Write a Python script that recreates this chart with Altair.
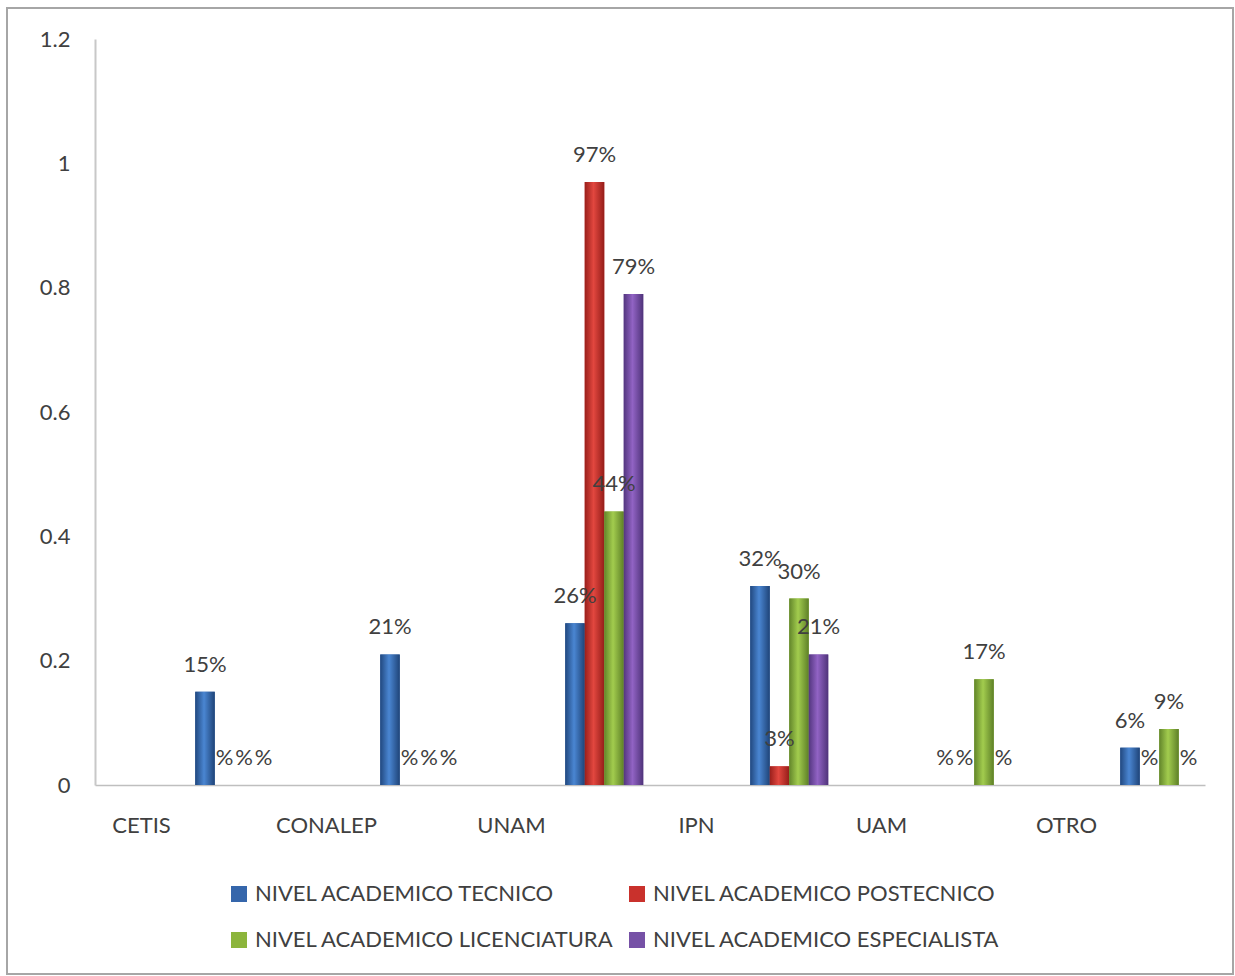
import altair as alt
import pandas as pd

categories = ["CETIS", "CONALEP", "UNAM", "IPN", "UAM", "OTRO"]
series = [
    "NIVEL ACADEMICO TECNICO",
    "NIVEL ACADEMICO POSTECNICO",
    "NIVEL ACADEMICO LICENCIATURA",
    "NIVEL ACADEMICO ESPECIALISTA",
]
tecnico = [0.15, 0.21, 0.26, 0.32, 0.0, 0.06]
postecnico = [0.0, 0.0, 0.97, 0.03, 0.0, 0.0]
licenciatura = [0.0, 0.0, 0.44, 0.30, 0.17, 0.09]
especialista = [0.0, 0.0, 0.79, 0.21, 0.0, 0.0]
y_ticks = [0, 0.2, 0.4, 0.6, 0.8, 1.0, 1.2]

solid = ["#3566ab", "#c9312c", "#8cb53c", "#7651a6"]
grad_colors = [
    ("#21487f", "#4a86d2", "#1f4478"),
    ("#9a1f1b", "#e2473f", "#951d19"),
    ("#62852a", "#a2cc4e", "#5e8027"),
    ("#53367f", "#9163c4", "#4f337a"),
]

rows = []
for s, vals in zip(series, [tecnico, postecnico, licenciatura, especialista]):
    for c, v in zip(categories, vals):
        rows.append({
            "cat": c,
            "serie": s,
            "val": v,
            "label": (f"{round(v * 100)}%" if v > 0 else "%"),
        })
df = pd.DataFrame(rows)

FONT = "Lato"
TXT = "#404040"
slot_domain = ["_a", "_b", "_c", "_d", "_e"] + series

x_enc = alt.X(
    "cat:N",
    sort=categories,
    scale=alt.Scale(paddingInner=0, paddingOuter=0),
    axis=alt.Axis(
        title=None, labelAngle=0, labelOffset=-46, labelPadding=30, ticks=False,
        domainColor="#bfbfbf", domainWidth=1.5, labelFont=FONT, labelFontSize=22,
        labelColor=TXT,
    ),
)
xo_enc = alt.XOffset(
    "serie:N",
    scale=alt.Scale(domain=slot_domain, paddingInner=0, paddingOuter=0.244, align=0.29),
)
y_enc = alt.Y(
    "val:Q",
    scale=alt.Scale(domain=[0, 1.2], nice=False),
    axis=alt.Axis(
        values=y_ticks, title=None, grid=False, ticks=False, labelPadding=25,
        labelExpr="'' + datum.value", domainColor="#c8c8c8", domainWidth=2,
        labelFont=FONT, labelFontSize=22, labelColor=TXT,
    ),
)

base = alt.Chart(df).mark_bar().encode(
    x=x_enc,
    xOffset=xo_enc,
    y=y_enc,
    color=alt.Color(
        "serie:N",
        scale=alt.Scale(domain=series, range=solid),
        legend=alt.Legend(
            title=None, orient="none", legendX=133, legendY=844, columns=2,
            direction="horizontal",
            symbolType="square", symbolSize=256, symbolStrokeWidth=0,
            labelFont=FONT, labelFontSize=22, labelColor=TXT, labelOffset=5,
            labelLimit=0, columnPadding=12, rowPadding=24, padding=0,
        ),
    ),
)

layers = [base]
for s, (c0, c1, c2) in zip(series, grad_colors):
    grad = alt.LinearGradient(
        gradient="linear", x1=0, x2=1, y1=0, y2=0,
        stops=[
            alt.GradientStop(color=c0, offset=0),
            alt.GradientStop(color=c1, offset=0.45),
            alt.GradientStop(color=c2, offset=1),
        ],
    )
    layers.append(
        alt.Chart(df).transform_filter(alt.datum.serie == s)
        .mark_bar(color=grad)
        .encode(x=x_enc, xOffset=xo_enc, y=y_enc)
    )

labels = alt.Chart(df).mark_text(
    dy=-27, baseline="middle", align="center", font=FONT, fontSize=22, color=TXT
).encode(x=x_enc, xOffset=xo_enc, y=y_enc, text="label:N")
layers.append(labels)

frame = alt.Chart(pd.DataFrame({"a": [0]})).mark_rect(
    filled=False, stroke="#a6a6a6", strokeWidth=2
).encode(
    x=alt.value(-88), x2=alt.value(1138), y=alt.value(-31), y2=alt.value(935)
)
layers.append(frame)

chart = alt.layer(*layers).properties(
    width=1110, height=746,
    autosize=alt.AutoSizeParams(type="none"),
    padding={"left": 95, "top": 39, "right": 30, "bottom": 191},
    background="white",
).configure(font=FONT).configure_view(stroke=None)

chart.save("out.html", embed_options={"renderer": "svg", "actions": False})
